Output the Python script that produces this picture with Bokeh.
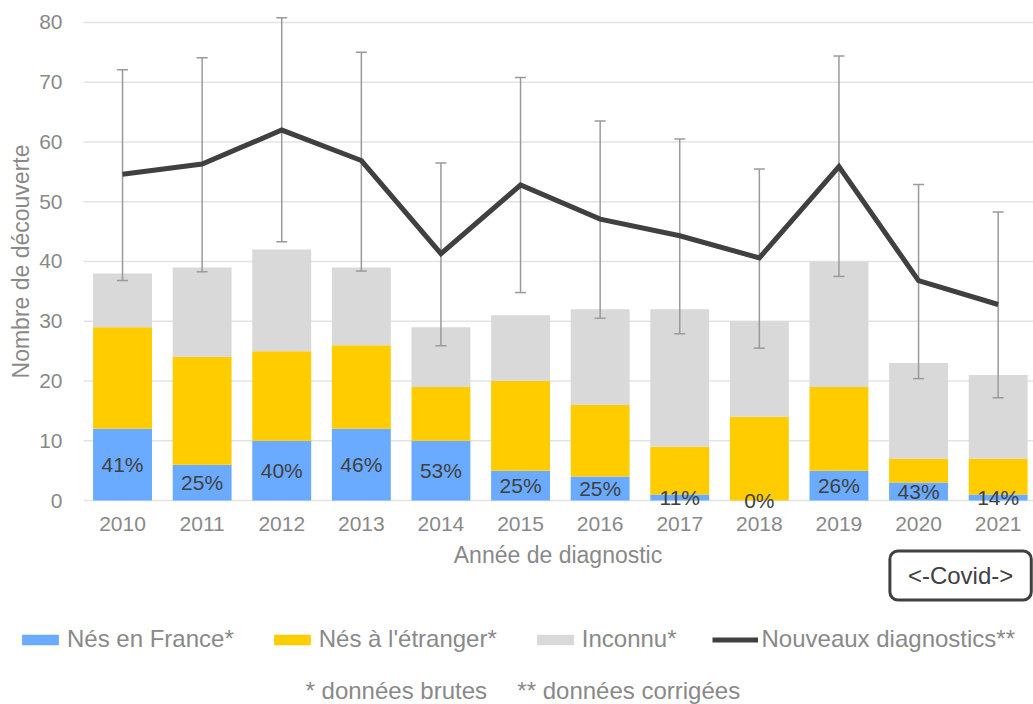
from bokeh.plotting import figure
from bokeh.models import (ColumnDataSource, Range1d, FixedTicker, Whisker, TeeHead,
                          Legend, LegendItem, Label, LinearAxis)
from bokeh.embed import file_html
from bokeh.resources import INLINE
from bokeh.core.properties import value

# ---- data ----
years = [2010, 2011, 2012, 2013, 2014, 2015, 2016, 2017, 2018, 2019, 2020, 2021]
nes_france = [12, 6, 10, 12, 10, 5, 4, 1, 0, 5, 3, 1]
nes_etranger = [17, 18, 15, 14, 9, 15, 12, 8, 14, 14, 4, 6]
inconnu = [9, 15, 17, 13, 10, 11, 16, 23, 16, 21, 16, 14]
nouveaux = [54.6, 56.3, 62.0, 56.9, 41.3, 52.8, 47.1, 44.3, 40.6, 55.9, 36.8, 32.8]
ic_haut = [72.1, 74.1, 80.8, 75.0, 56.5, 70.8, 63.5, 60.5, 55.5, 74.4, 52.9, 48.3]
ic_bas = [36.8, 38.3, 43.3, 38.4, 25.9, 34.8, 30.5, 27.9, 25.5, 37.5, 20.4, 17.2]
pct_labels = ["41%", "25%", "40%", "46%", "53%", "25%", "25%", "11%", "0%", "26%", "43%", "14%"]
y_ticks = [0, 10, 20, 30, 40, 50, 60, 70, 80]

FONT = "Liberation Sans"
GREY_TXT = "#898989"
DARK = "#404040"

X0, X1 = 2008.467, 2021.444      # visible x extent (whole canvas)
PLOT_LEFT = 2009.51              # where the plot area starts

src = ColumnDataSource(dict(
    x=years, france=nes_france, etranger=nes_etranger, inconnu=inconnu,
    diag=nouveaux, hi=ic_haut, lo=ic_bas, pct=pct_labels,
    ylab=[v / 2 for v in nes_france],
))

p = figure(width=1033, height=704,
           x_range=Range1d(X0, X1), y_range=Range1d(-34.14, 83.68),
           x_axis_location=None, y_axis_location=None,
           output_backend="svg", toolbar_location=None,
           min_border_left=0, min_border_right=0, min_border_top=0, min_border_bottom=0)
p.outline_line_color = None
p.background_fill_color = "white"
p.border_fill_color = "white"
p.grid.visible = False

# horizontal grid lines of the plot area
p.segment(x0=[PLOT_LEFT] * len(y_ticks), x1=[X1] * len(y_ticks), y0=y_ticks, y1=y_ticks,
          line_color="#e3e3e3", line_width=1.5, level="underlay")

bars = p.vbar_stack(["france", "etranger", "inconnu"], x="x", width=0.74,
                    fill_color=["#6AABFF", "#FFCC00", "#D9D9D9"], line_color=None,
                    source=src)

p.text(x="x", y="ylab", text="pct", source=src, text_align="center",
       text_baseline="middle", text_font_size="21px", text_color=DARK,
       text_font=value(FONT))

whisk = Whisker(source=src, base="x", upper="hi", lower="lo",
                line_color="#9a9a9a", line_width=1.5, level="annotation",
                upper_head=TeeHead(size=11, line_color="#9a9a9a", line_width=1.5),
                lower_head=TeeHead(size=11, line_color="#9a9a9a", line_width=1.5))
p.add_layout(whisk)

line = p.line(x="x", y="diag", source=src, line_width=5, line_color=DARK,
              line_join="miter", level="overlay")

# axes (drawn at fixed positions inside the canvas)
xaxis = LinearAxis(fixed_location=0, ticker=FixedTicker(ticks=years), bounds=(2009.5, 2021.5),
                   axis_label="Année de diagnostic")
yaxis = LinearAxis(fixed_location=PLOT_LEFT, ticker=FixedTicker(ticks=y_ticks), bounds=(0, 80),
                   axis_label="Nombre de découverte")
for ax in (xaxis, yaxis):
    ax.axis_line_color = None
    ax.major_tick_line_color = None
    ax.minor_tick_line_color = None
    ax.major_label_text_color = GREY_TXT
    ax.major_label_text_font = FONT
    ax.major_label_text_font_size = "21px"
    ax.axis_label_text_color = GREY_TXT
    ax.axis_label_text_font = FONT
    ax.axis_label_text_font_style = "normal"
    ax.axis_label_text_font_size = "23px"
xaxis.major_label_standoff = 10
xaxis.axis_label_standoff = 8
yaxis.major_label_standoff = 15
yaxis.axis_label_standoff = 2
p.add_layout(xaxis, "below")
p.add_layout(yaxis, "left")

legend = Legend(items=[
    LegendItem(label="Nés en France*", renderers=[bars[0]]),
    LegendItem(label="Nés à l'étranger*", renderers=[bars[1]]),
    LegendItem(label="Inconnu*", renderers=[bars[2]]),
    LegendItem(label="Nouveaux diagnostics**", renderers=[line]),
], orientation="horizontal", location=(17, 51), glyph_width=46, glyph_height=13,
    label_standoff=4, spacing=35, padding=0, margin=0, border_line_color=None,
    background_fill_alpha=0, label_text_font_size="24px", label_text_color=GREY_TXT,
    label_text_font=FONT)
p.add_layout(legend)

covid = Label(x=2020.528, y=-12.55, text="<-Covid->", text_align="center",
              text_baseline="middle", text_font_size="24px", text_color=DARK,
              text_font=FONT, border_line_color=DARK, border_line_width=3,
              border_radius=8, background_fill_color="white",
              padding=dict(left=18, right=18, top=11, bottom=11))
p.add_layout(covid)

note1 = Label(x=2012.299, y=-31.8, text="* données brutes", text_align="left",
              text_baseline="middle", text_font_size="24px", text_color=GREY_TXT,
              text_font=FONT)
note2 = Label(x=2014.96, y=-31.8, text="** données corrigées", text_align="left",
              text_baseline="middle", text_font_size="24px", text_color=GREY_TXT,
              text_font=FONT)
p.add_layout(note1)
p.add_layout(note2)

open("out.html", "w").write(file_html(p, INLINE))
